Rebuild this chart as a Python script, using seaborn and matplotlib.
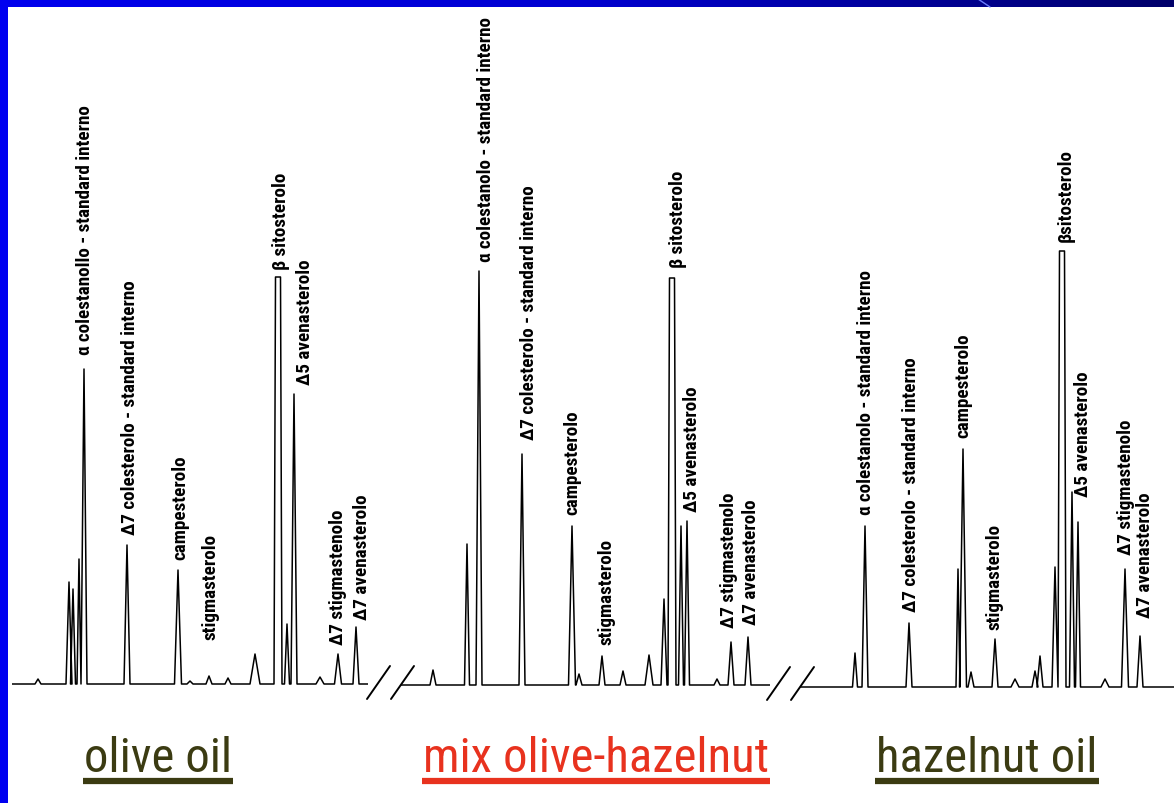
import numpy as np
import pandas as pd
import seaborn as sns
import matplotlib.pyplot as plt
from matplotlib import font_manager
from matplotlib.colors import LinearSegmentedColormap

sns.set_theme(style='white')
plt.rcParams['font.family'] = ['DejaVu Sans']

# --- chromatogram data (retention position, peak height, half width, flat top) ---
olive_rt = [26, 57, 61, 67, 72, 115, 166, 178, 197, 216, 243, 266, 275, 282, 308, 326, 344]
olive_h = [5, 102, 95, 125, 315, 139, 114, 3, 8, 6, 30, 407, 60, 290, 7, 30, 57]
olive_w = [3, 3, 2.5, 2, 3, 3, 3.5, 3, 3, 3, 5, 4, 2.5, 3, 4, 3.5, 3]
olive_top = [0, 0, 0, 0, 0, 0, 0, 0, 0, 0, 0, 5, 0, 0, 0, 0, 0]
olive_lab_peak = [4, 5, 6, 8, 11, 13, 15, 16]
olive_lab_text = ['α colestanollo - standard interno', 'Δ7 colesterolo - standard interno',
                  'campesterolo', 'stigmasterolo', 'β sitosterolo', 'Δ5 avenasterolo',
                  'Δ7 stigmastenolo', 'Δ7 avenasterolo']

mix_rt = [32, 66, 78, 121, 171, 178, 201, 222, 248, 263, 271, 280, 286, 316, 330, 347]
mix_h = [15, 141, 414, 231, 159, 11, 29, 14, 30, 86, 407, 159, 164, 6, 43, 48]
mix_w = [3, 2.5, 3, 3, 3.5, 3, 3, 3, 4, 3, 4, 2.5, 2.5, 3, 3, 3]
mix_top = [0, 0, 0, 0, 0, 0, 0, 0, 0, 0, 5, 0, 0, 0, 0, 0]
mix_lab_peak = [2, 3, 4, 6, 10, 12, 14, 15]
mix_lab_text = ['α colestanolo - standard interno', 'Δ7 colesterolo - standard interno',
                'campesterolo', 'stigmasterolo', 'β sitosterolo', 'Δ5 avenasterolo',
                'Δ7 stigmastenolo', 'Δ7 avenasterolo']

hazel_rt = [55, 65, 109, 158, 163, 171, 195, 215, 235, 240, 255, 262, 272, 278, 305, 325, 340]
hazel_h = [34, 161, 64, 118, 238, 15, 48, 8, 16, 31, 120, 436, 195, 165, 8, 118, 51]
hazel_w = [2.5, 3, 3, 2, 3.5, 3, 3, 4, 3, 3, 3, 4, 2.5, 2.5, 4, 3.5, 3]
hazel_top = [0, 0, 0, 0, 0, 0, 0, 0, 0, 0, 0, 5, 0, 0, 0, 0, 0]
hazel_lab_peak = [1, 2, 4, 6, 11, 12, 15, 16]
hazel_lab_text = ['α colestanolo - standard interno', 'Δ7 colesterolo - standard interno',
                  'campesterolo', 'stigmasterolo', 'βsitosterolo', 'Δ5 avenasterolo',
                  'Δ7 stigmastenolo', 'Δ7 avenasterolo']

sample_names = ['olive oil', 'mix olive-hazelnut', 'hazelnut oil']
sample_colors = ['#3b3b12', '#e8321e', '#3b3b12']

# layout: panel left/right pixel, baseline pixel, label offsets (dx, gap)
panels = [
    dict(rt=olive_rt, h=olive_h, w=olive_w, top=olive_top, lp=olive_lab_peak, lt=olive_lab_text,
         x0=12, x1=368, base=685,
         off=[(1, 15), (3, 11), (2, 11), (1, 37), (3, 8), (11, 10), (0, 10), (6, 8)]),
    dict(rt=mix_rt, h=mix_h, w=mix_w, top=mix_top, lp=mix_lab_peak, lt=mix_lab_text,
         x0=401, x1=770, base=686,
         off=[(7, 10), (7, 15), (0, 12), (4, 12), (6, 11), (5, 10), (-2, 15), (3, 13)]),
    dict(rt=hazel_rt, h=hazel_h, w=hazel_w, top=hazel_top, lp=hazel_lab_peak, lt=hazel_lab_text,
         x0=800, x1=1174, base=688,
         off=[(1, 12), (2, 12), (0, 12), (0, 10), (4, 10), (11, -4), (1, 15), (5, 19)]),
]
label_x = [158, 596, 987]

W, H = 1174, 804

# pick a narrow face if one is installed
installed = {f.name for f in font_manager.fontManager.ttflist}
narrow = None
for cand in ['Liberation Sans Narrow', 'DejaVu Sans Condensed', 'Roboto Condensed']:
    if cand in installed:
        narrow = cand
        break
if narrow:
    peak_font = dict(family=[narrow, 'DejaVu Sans'], fontsize=13.8)
    name_font = dict(family=[narrow, 'DejaVu Sans'], fontsize=35)
else:
    peak_font = dict(family=['DejaVu Sans'], fontsize=10.2)
    name_font = dict(family=['DejaVu Sans'], fontsize=27)


def build_trace(rt, h, w, top, end):
    xs, ys = [0], [0]
    for r, hh, ww, t in sorted(zip(rt, h, w, top)):
        xs += [r - ww, r - t / 2, r + t / 2, r + ww]
        ys += [0, hh, hh, 0]
    xs.append(end)
    ys.append(0)
    return pd.DataFrame({'rt': xs, 'signal': ys})


fig = plt.figure(figsize=(W / 100, H / 100), dpi=100)
fig.patch.set_facecolor('white')

for p in panels:
    span = p['x1'] - p['x0']
    ax = fig.add_axes([p['x0'] / W, (H - p['base'] - 20) / H, span / W, (p['base'] + 20) / H])
    ax.set_xlim(0, span)
    ax.set_ylim(-20, p['base'])
    ax.axis('off')
    df = build_trace(p['rt'], p['h'], p['w'], p['top'], span)
    sns.lineplot(data=df, x='rt', y='signal', sort=False, estimator=None, ax=ax,
                 color='black', lw=1.1)
    for i, txt, (dx, gap) in zip(p['lp'], p['lt'], p['off']):
        ax.text(p['rt'][i] + dx, p['h'][i] + gap, txt, rotation=90, ha='center', va='bottom',
                fontweight='bold', color='black', clip_on=False, **peak_font)

# overlay for frame, break marks and sample names (pixel coordinates)
ov = fig.add_axes([0, 0, 1, 1], zorder=5)
ov.set_xlim(0, W)
ov.set_ylim(H, 0)
ov.axis('off')
ov.patch.set_alpha(0)

grad = LinearSegmentedColormap.from_list('bar', ['#0000ee', '#0000d0', '#00006a'])
ov.imshow(np.linspace(0, 1, 256)[None, :], cmap=grad, aspect='auto', extent=(0, W, 8, 0))
ov.add_patch(plt.Rectangle((0, 0), 8, H, color='#0000f0', lw=0))
ov.plot([978, 990], [0, 8], color='#6a7cff', lw=1)

for bx, by in [(367, 686), (767, 687)]:
    ov.plot([bx, bx + 23], [by + 14, by - 19], color='black', lw=1.4)
    ov.plot([bx + 24, bx + 47], [by + 14, by - 19], color='black', lw=1.4)
ov.set_xlim(0, W)
ov.set_ylim(H, 0)

texts = []
for name, col, cx in zip(sample_names, sample_colors, label_x):
    t = ov.text(cx, 759, name, ha='center', va='center', color=col, **name_font)
    texts.append((t, col))

fig.canvas.draw()
inv = ov.transData.inverted()
for t, col in texts:
    bb = t.get_window_extent()
    (xa, _), (xb, _) = inv.transform([[bb.x0, bb.y0], [bb.x1, bb.y1]])
    ov.plot([xa - 1, xb + 1], [782, 782], color=col, lw=4.5, solid_capstyle='butt')

fig.savefig('out.png', dpi=100, facecolor='white')
